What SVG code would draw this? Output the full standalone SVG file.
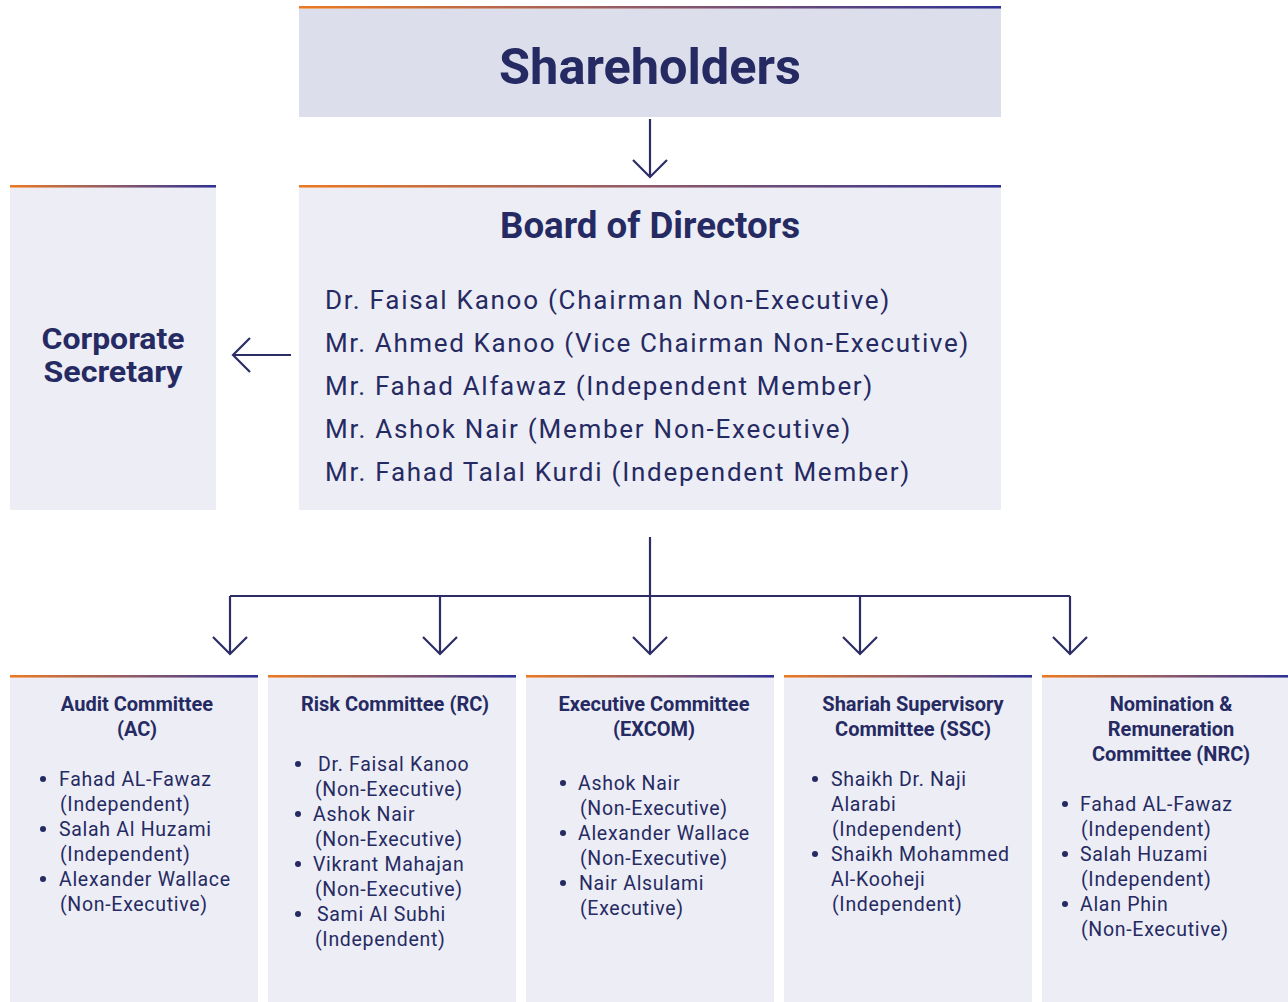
<svg xmlns="http://www.w3.org/2000/svg" width="1288" height="1002" viewBox="0 0 1288 1002">
<style>
.box{fill:#ecedf5}
.sh{fill:#dcdeeb}
.t{fill:#262a62;font-family:Roboto,"Liberation Sans",sans-serif}
.b{font-weight:700}
.ct{font-size:20px;font-weight:700;text-anchor:middle}
.it{font-size:19.5px;letter-spacing:0.7px}
.mem{font-size:26px;letter-spacing:0.6px}
.ln{stroke:#2b2d64;stroke-width:2.2;fill:none}
</style>
<defs>
<linearGradient id="g" x1="0" y1="0" x2="1" y2="0">
<stop offset="0" stop-color="#ea7a24"/>
<stop offset="0.5" stop-color="#8e5a6a"/>
<stop offset="1" stop-color="#2e3192"/>
</linearGradient>
</defs>

<g id="shareholders">
<rect class="sh" x="299" y="9" width="702" height="108"/>
<rect fill="url(#g)" x="299" y="6" width="702" height="2.6"/>
<text class="t b" x="650" y="84" font-size="50" text-anchor="middle" textLength="302" lengthAdjust="spacingAndGlyphs">Shareholders</text>
</g>

<g id="board">
<rect class="box" x="299" y="188" width="702" height="322"/>
<rect fill="url(#g)" x="299" y="185" width="702" height="2.6"/>
<text class="t b" x="650" y="238" font-size="36" text-anchor="middle" textLength="300" lengthAdjust="spacingAndGlyphs">Board of Directors</text>
<text class="t mem" x="325" y="309" textLength="565">Dr. Faisal Kanoo (Chairman Non-Executive)</text>
<text class="t mem" x="325" y="352" textLength="644">Mr. Ahmed Kanoo (Vice Chairman Non-Executive)</text>
<text class="t mem" x="325" y="395" textLength="548">Mr. Fahad Alfawaz (Independent Member)</text>
<text class="t mem" x="325" y="438" textLength="526">Mr. Ashok Nair (Member Non-Executive)</text>
<text class="t mem" x="325" y="481" textLength="585">Mr. Fahad Talal Kurdi (Independent Member)</text>
</g>

<g id="corporate-secretary">
<rect class="box" x="10" y="188" width="206" height="322"/>
<rect fill="url(#g)" x="10" y="185" width="206" height="2.6"/>
<text class="t b" x="113" y="349" font-size="30" text-anchor="middle" textLength="143" lengthAdjust="spacingAndGlyphs">Corporate</text>
<text class="t b" x="113" y="382" font-size="30" text-anchor="middle" textLength="139" lengthAdjust="spacingAndGlyphs">Secretary</text>
</g>

<g id="connectors">
<path class="ln" d="M650 119 V177 M633 160 L650 177 L667 160"/>
<path class="ln" d="M291 355 H233 M250 338 L233 355 L250 372"/>
<path class="ln" d="M650 537 V596 M230 596 H1070"/>
<path class="ln" d="M230 596 V654 M213 637 L230 654 L247 637"/>
<path class="ln" d="M440 596 V654 M423 637 L440 654 L457 637"/>
<path class="ln" d="M650 596 V654 M633 637 L650 654 L667 637"/>
<path class="ln" d="M860 596 V654 M843 637 L860 654 L877 637"/>
<path class="ln" d="M1070 596 V654 M1053 637 L1070 654 L1087 637"/>
</g>

<g id="audit-committee">
<rect class="box" x="10" y="678" width="248" height="324"/>
<rect fill="url(#g)" x="10" y="675" width="248" height="2.6"/>
<text class="t ct" x="137" y="711">Audit Committee</text>
<text class="t ct" x="137" y="736">(AC)</text>
<circle cx="43" cy="779" r="3" fill="#262a62"/>
<circle cx="43" cy="829" r="3" fill="#262a62"/>
<circle cx="43" cy="879" r="3" fill="#262a62"/>
<text class="t it" x="59" y="786">Fahad AL-Fawaz</text>
<text class="t it" x="60" y="811">(Independent)</text>
<text class="t it" x="59" y="836">Salah Al Huzami</text>
<text class="t it" x="60" y="861">(Independent)</text>
<text class="t it" x="59" y="886">Alexander Wallace</text>
<text class="t it" x="60" y="911">(Non-Executive)</text>
</g>

<g id="risk-committee">
<rect class="box" x="268" y="678" width="248" height="324"/>
<rect fill="url(#g)" x="268" y="675" width="248" height="2.6"/>
<text class="t ct" x="395" y="711">Risk Committee (RC)</text>
<circle cx="298" cy="764" r="3" fill="#262a62"/>
<circle cx="298" cy="814" r="3" fill="#262a62"/>
<circle cx="298" cy="864" r="3" fill="#262a62"/>
<circle cx="298" cy="914" r="3" fill="#262a62"/>
<text class="t it" x="318" y="771">Dr. Faisal Kanoo</text>
<text class="t it" x="315" y="796">(Non-Executive)</text>
<text class="t it" x="313" y="821">Ashok Nair</text>
<text class="t it" x="315" y="846">(Non-Executive)</text>
<text class="t it" x="313" y="871">Vikrant Mahajan</text>
<text class="t it" x="315" y="896">(Non-Executive)</text>
<text class="t it" x="317" y="921">Sami Al Subhi</text>
<text class="t it" x="315" y="946">(Independent)</text>
</g>

<g id="executive-committee">
<rect class="box" x="526" y="678" width="248" height="324"/>
<rect fill="url(#g)" x="526" y="675" width="248" height="2.6"/>
<text class="t ct" x="654" y="711">Executive Committee</text>
<text class="t ct" x="654" y="736">(EXCOM)</text>
<circle cx="563" cy="783" r="3" fill="#262a62"/>
<circle cx="563" cy="833" r="3" fill="#262a62"/>
<circle cx="563" cy="883" r="3" fill="#262a62"/>
<text class="t it" x="578" y="790">Ashok Nair</text>
<text class="t it" x="580" y="815">(Non-Executive)</text>
<text class="t it" x="578" y="840">Alexander Wallace</text>
<text class="t it" x="580" y="865">(Non-Executive)</text>
<text class="t it" x="579" y="890">Nair Alsulami</text>
<text class="t it" x="580" y="915">(Executive)</text>
</g>

<g id="shariah-committee">
<rect class="box" x="784" y="678" width="248" height="324"/>
<rect fill="url(#g)" x="784" y="675" width="248" height="2.6"/>
<text class="t ct" x="913" y="711">Shariah Supervisory</text>
<text class="t ct" x="913" y="736">Committee (SSC)</text>
<circle cx="815" cy="779" r="3" fill="#262a62"/>
<circle cx="815" cy="854" r="3" fill="#262a62"/>
<text class="t it" x="831" y="786">Shaikh Dr. Naji</text>
<text class="t it" x="831" y="811">Alarabi</text>
<text class="t it" x="832" y="836">(Independent)</text>
<text class="t it" x="831" y="861">Shaikh Mohammed</text>
<text class="t it" x="831" y="886">Al-Kooheji</text>
<text class="t it" x="832" y="911">(Independent)</text>
</g>

<g id="nomination-committee">
<rect class="box" x="1042" y="678" width="246" height="324"/>
<rect fill="url(#g)" x="1042" y="675" width="246" height="2.6"/>
<text class="t ct" x="1171" y="711">Nomination &amp;</text>
<text class="t ct" x="1171" y="736">Remuneration</text>
<text class="t ct" x="1171" y="761">Committee (NRC)</text>
<circle cx="1065" cy="804" r="3" fill="#262a62"/>
<circle cx="1065" cy="854" r="3" fill="#262a62"/>
<circle cx="1065" cy="904" r="3" fill="#262a62"/>
<text class="t it" x="1080" y="811">Fahad AL-Fawaz</text>
<text class="t it" x="1081" y="836">(Independent)</text>
<text class="t it" x="1080" y="861">Salah Huzami</text>
<text class="t it" x="1081" y="886">(Independent)</text>
<text class="t it" x="1080" y="911">Alan Phin</text>
<text class="t it" x="1081" y="936">(Non-Executive)</text>
</g>
</svg>
